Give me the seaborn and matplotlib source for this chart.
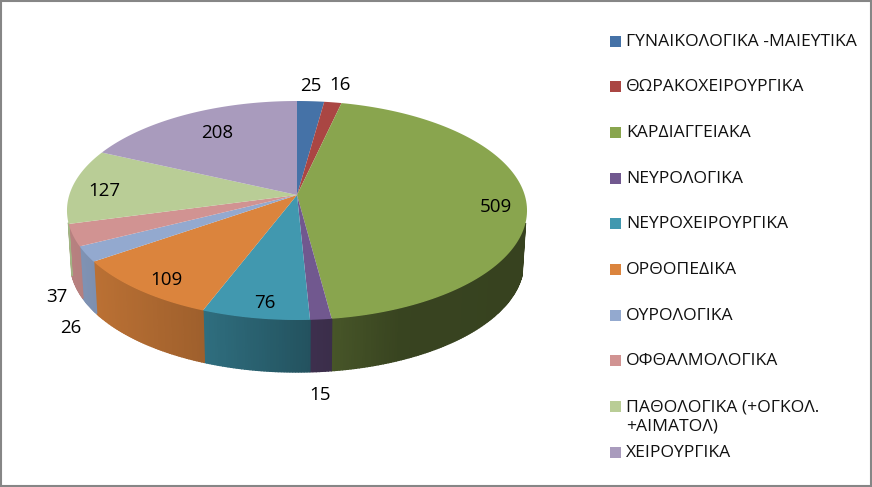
import numpy as np
import seaborn as sns
import matplotlib.pyplot as plt
from matplotlib.patches import Rectangle

# data
categories = ['ΓΥΝΑΙΚΟΛΟΓΙΚΑ -ΜΑΙΕΥΤΙΚΑ', 'ΘΩΡΑΚΟΧΕΙΡΟΥΡΓΙΚΑ', 'ΚΑΡΔΙΑΓΓΕΙΑΚΑ', 'ΝΕΥΡΟΛΟΓΙΚΑ',
              'ΝΕΥΡΟΧΕΙΡΟΥΡΓΙΚΑ', 'ΟΡΘΟΠΕΔΙΚΑ', 'ΟΥΡΟΛΟΓΙΚΑ', 'ΟΦΘΑΛΜΟΛΟΓΙΚΑ',
              'ΠΑΘΟΛΟΓΙΚΑ (+ΟΓΚΟΛ.\n+ΑΙΜΑΤΟΛ)', 'ΧΕΙΡΟΥΡΓΙΚΑ']
values = [25, 16, 509, 15, 76, 109, 26, 37, 127, 208]
colors = ['#4572A7', '#AA4643', '#89A54E', '#71588F', '#4198AF',
          '#DB843D', '#93A9CF', '#D19392', '#B9CD96', '#A99BBD']

# where the value labels sit (pixels)
label_x = [311, 340, 496, 320, 265, 166, 71, 57, 104, 217]
label_y = [86, 85, 207, 395, 303, 280, 328, 297, 191, 133]

sns.set_theme(style='white')
plt.rcParams['font.family'] = ['Open Sans', 'DejaVu Sans']
palette = sns.color_palette(colors)

fig = plt.figure(figsize=(8.72, 4.87), dpi=100)
ax = fig.add_axes([0, 0, 1, 1])
ax.set_xlim(0, 872)
ax.set_ylim(487, 0)
ax.axis('off')

# tilted disc: perspective projection of the unit circle
cx, cy = 297, 195
k = 0.1416
A, B = 227.7, 107.3
depth = 52


def project(theta):
    w = 1 + k * np.cos(theta)
    return cx + A * np.sin(theta) / w, cy - B * np.cos(theta) / w


def shade(x):
    return np.interp(x, [67, 95, 205, 310, 331, 400, 527],
                     [.88, .85, .72, .54, .52, .41, .40])


edges = np.cumsum([0] + values) / sum(values) * 2 * np.pi

# side wall, cut in thin strips for the gradient
for i, col in enumerate(palette):
    th = np.linspace(edges[i], edges[i + 1], max(int(values[i] / 2), 4) + 1)
    for t0, t1 in zip(th[:-1], th[1:]):
        # only the front part of the rim shows
        if np.cos((t0 + t1) / 2) > -0.25:
            continue
        x0, y0 = project(t0)
        x1, y1 = project(t1)
        bx0 = cx + (x0 - cx) * 0.985
        bx1 = cx + (x1 - cx) * 0.985
        c = np.array(col) * shade((x0 + x1) / 2)
        ax.fill([x0, x1, bx1, bx0], [y0, y1, y1 + depth, y0 + depth],
                facecolor=c, edgecolor=c, lw=1.0, zorder=2 + i * 0.01)

# top of the pie
for i, col in enumerate(palette):
    th = np.linspace(edges[i], edges[i + 1], 120)
    x, y = project(th)
    ax.fill(np.r_[cx, x], np.r_[cy, y], color=col, lw=0, zorder=3)

for v, lx, ly in zip(values, label_x, label_y):
    ax.text(lx, ly, str(v), ha='center', va='center', fontsize=13.5, color='black', zorder=4)

# legend by hand, the wrapped entry does not push the next one down
for i, (name, col) in enumerate(zip(categories, palette)):
    y = 41 + i * 45.7
    ax.add_patch(Rectangle((610, y - 5.5), 11, 11, color=col, lw=0))
    ax.text(626, y - 7.5, name, ha='left', va='top', fontsize=12.6, color='#111111',
            linespacing=1.32)

# chart frame
ax.add_patch(Rectangle((1, 1), 870, 485, fill=False, ec='#868686', lw=1.5, zorder=5))

plt.savefig('out.png', dpi=100)
